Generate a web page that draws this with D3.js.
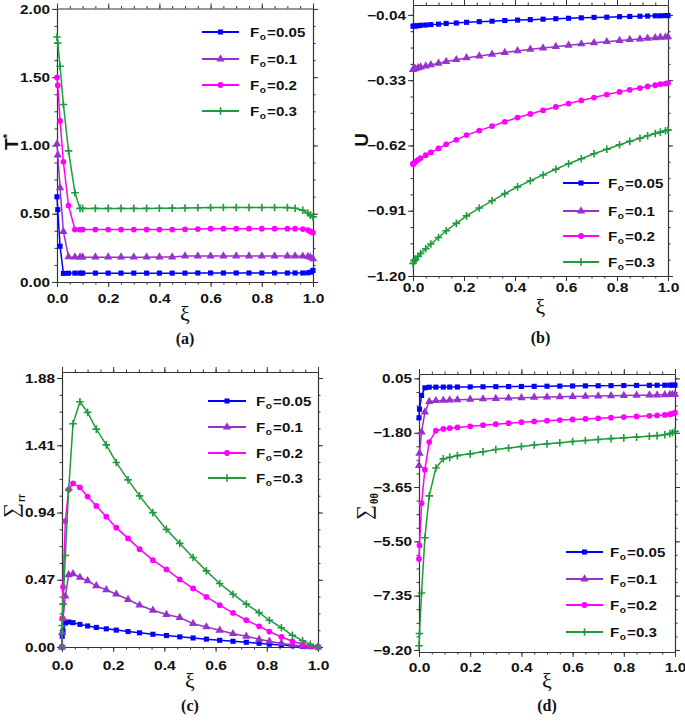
<!DOCTYPE html>
<html><head><meta charset="utf-8">
<script src="https://cdn.jsdelivr.net/npm/d3@7"></script>
<style>body{margin:0;background:#fff} svg{display:block}</style>
</head><body><svg id="c" width="685" height="722"></svg>
<script>
// ---------------- DATA ----------------
const xTicks = [0, 0.2, 0.4, 0.6, 0.8, 1.0];
const foLabels = ["0.05", "0.1", "0.2", "0.3"];

// (a) T* vs xi
const xiA = [0, 0.003, 0.012, 0.025, 0.045, 0.07, 0.09, 0.1, 0.15, 0.2, 0.25, 0.3, 0.35, 0.4, 0.45, 0.5, 0.55, 0.6, 0.65, 0.7, 0.75, 0.8, 0.85, 0.9, 0.93, 0.96, 0.98, 0.99, 1.0];
const tA_005 = [0.624, 0.53, 0.262, 0.063, 0.064, 0.065, 0.065, 0.065, 0.065, 0.065, 0.065, 0.065, 0.065, 0.065, 0.065, 0.065, 0.066, 0.066, 0.066, 0.066, 0.066, 0.066, 0.066, 0.066, 0.066, 0.066, 0.067, 0.072, 0.085];
const tA_01 = [1.011, 0.93, 0.69, 0.37, 0.184, 0.182, 0.182, 0.182, 0.182, 0.182, 0.182, 0.182, 0.182, 0.183, 0.183, 0.19, 0.19, 0.19, 0.19, 0.19, 0.19, 0.19, 0.19, 0.19, 0.19, 0.189, 0.187, 0.18, 0.17];
const tA_02 = [1.498, 1.44, 1.18, 0.88, 0.56, 0.384, 0.384, 0.384, 0.384, 0.384, 0.384, 0.384, 0.384, 0.384, 0.384, 0.386, 0.388, 0.39, 0.39, 0.39, 0.39, 0.39, 0.39, 0.39, 0.39, 0.388, 0.38, 0.37, 0.36];
const tA_03 = [1.794, 1.75, 1.58, 1.30, 0.96, 0.654, 0.539, 0.539, 0.539, 0.539, 0.539, 0.539, 0.539, 0.540, 0.541, 0.542, 0.544, 0.545, 0.546, 0.546, 0.546, 0.546, 0.546, 0.545, 0.54, 0.525, 0.505, 0.49, 0.477];
const yTicksA = [0, 0.5, 1.0, 1.5, 2.0];

// (b) U vs xi
const xiB = [0, 0.005, 0.01, 0.02, 0.03, 0.05, 0.07, 0.1, 0.13, 0.17, 0.21, 0.26, 0.31, 0.36, 0.41, 0.46, 0.51, 0.56, 0.61, 0.66, 0.71, 0.76, 0.81, 0.85, 0.89, 0.92, 0.95, 0.97, 0.99, 1.0];
const uB_005 = [-0.090, -0.089, -0.089, -0.088, -0.086, -0.085, -0.083, -0.081, -0.078, -0.076, -0.073, -0.070, -0.068, -0.065, -0.063, -0.061, -0.059, -0.057, -0.055, -0.053, -0.051, -0.050, -0.048, -0.047, -0.046, -0.045, -0.044, -0.044, -0.043, -0.043];
const uB_01 = [-0.283, -0.280, -0.279, -0.275, -0.272, -0.267, -0.262, -0.255, -0.247, -0.239, -0.231, -0.223, -0.215, -0.207, -0.200, -0.193, -0.187, -0.181, -0.175, -0.169, -0.164, -0.159, -0.154, -0.150, -0.147, -0.144, -0.142, -0.140, -0.139, -0.138];
const uB_02 = [-0.703, -0.697, -0.692, -0.684, -0.676, -0.663, -0.651, -0.633, -0.615, -0.595, -0.574, -0.554, -0.534, -0.515, -0.496, -0.480, -0.464, -0.449, -0.434, -0.420, -0.407, -0.394, -0.382, -0.373, -0.365, -0.358, -0.352, -0.348, -0.345, -0.343];
const uB_03 = [-1.144, -1.133, -1.126, -1.113, -1.100, -1.079, -1.058, -1.029, -0.999, -0.966, -0.933, -0.898, -0.866, -0.834, -0.804, -0.777, -0.751, -0.726, -0.701, -0.679, -0.657, -0.637, -0.617, -0.602, -0.588, -0.577, -0.567, -0.561, -0.555, -0.552];
const yTicksB = [-1.20, -0.91, -0.62, -0.33, -0.04];

// (c) Sigma_rr vs xi
const xiC = [0, 0.001, 0.004, 0.013, 0.026, 0.043, 0.07, 0.1, 0.134, 0.173, 0.212, 0.258, 0.303, 0.355, 0.408, 0.46, 0.512, 0.564, 0.616, 0.668, 0.72, 0.77, 0.81, 0.857, 0.9, 0.94, 0.97, 1.0];
const sC_005 = [0, 0.075, 0.112, 0.168, 0.175, 0.17, 0.158, 0.147, 0.137, 0.127, 0.118, 0.108, 0.099, 0.089, 0.08, 0.071, 0.063, 0.055, 0.047, 0.04, 0.033, 0.026, 0.02, 0.014, 0.009, 0.005, 0.002, 0];
const sC_01 = [0, 0.1, 0.2, 0.355, 0.505, 0.512, 0.486, 0.462, 0.427, 0.40, 0.369, 0.332, 0.292, 0.257, 0.227, 0.206, 0.163, 0.14, 0.117, 0.093, 0.075, 0.054, 0.04, 0.025, 0.015, 0.006, 0.002, 0];
const sC_02 = [0, 0.2, 0.42, 0.88, 1.10, 1.144, 1.115, 1.051, 0.986, 0.911, 0.834, 0.759, 0.684, 0.607, 0.542, 0.472, 0.409, 0.35, 0.292, 0.238, 0.187, 0.145, 0.108, 0.07, 0.04, 0.019, 0.006, 0];
const sC_03 = [0, 0.15, 0.30, 0.64, 1.10, 1.56, 1.714, 1.64, 1.523, 1.413, 1.29, 1.168, 1.056, 0.939, 0.822, 0.724, 0.626, 0.532, 0.444, 0.369, 0.30, 0.24, 0.187, 0.135, 0.082, 0.044, 0.018, 0];
const yTicksC = [0, 0.47, 0.94, 1.41, 1.88];

// (d) Sigma_thetatheta vs xi
const xiD = [0, 0.002, 0.01, 0.023, 0.04, 0.066, 0.095, 0.12, 0.15, 0.2, 0.25, 0.3, 0.35, 0.4, 0.45, 0.5, 0.55, 0.6, 0.65, 0.7, 0.75, 0.8, 0.85, 0.9, 0.93, 0.96, 0.98, 0.99, 1.0];
const sD_005 = [-1.29, -1.0, -0.53, -0.27, -0.25, -0.248, -0.246, -0.245, -0.243, -0.24, -0.236, -0.232, -0.228, -0.224, -0.22, -0.216, -0.212, -0.208, -0.204, -0.2, -0.196, -0.192, -0.189, -0.186, -0.184, -0.182, -0.18, -0.179, -0.178];
const sD_01 = [-2.917, -2.5, -1.78, -1.10, -0.74, -0.71, -0.70, -0.69, -0.68, -0.665, -0.65, -0.636, -0.622, -0.61, -0.598, -0.587, -0.577, -0.568, -0.56, -0.552, -0.545, -0.535, -0.527, -0.52, -0.515, -0.508, -0.503, -0.5, -0.496];
const sD_02 = [-6.1, -5.64, -4.2, -3.06, -2.12, -1.73, -1.67, -1.645, -1.62, -1.58, -1.545, -1.51, -1.475, -1.44, -1.415, -1.39, -1.37, -1.35, -1.33, -1.31, -1.29, -1.265, -1.245, -1.225, -1.21, -1.195, -1.17, -1.15, -1.12];
const sD_03 = [-9.056, -8.64, -7.26, -5.38, -3.95, -3.0, -2.69, -2.64, -2.58, -2.52, -2.45, -2.37, -2.32, -2.27, -2.22, -2.18, -2.14, -2.1, -2.065, -2.03, -2.0, -1.975, -1.95, -1.92, -1.9, -1.87, -1.83, -1.8, -1.75];
const yTicksD = [-9.20, -7.35, -5.50, -3.65, -1.80, 0.05];

// ---------------- STYLE / LAYOUT ----------------
const colors = ["#0000ff", "#9932cc", "#ff00ff", "#1f9a3c"];
const shapes = ["square", "triangle", "circle", "plus"];
const sans = "Liberation Sans, Arial, sans-serif";
const serif = "Liberation Serif, Times New Roman, serif";
const axisColor = "#333";

const panels = [
  { xs: xiA, series: [tA_005, tA_01, tA_02, tA_03], yTicks: yTicksA, yDom: [0, 2.003],
    x0: 57, x1: 313, yTop: 8.5, yBot: 282, xLab: 298, xiY: 317, tag: "(a)", tagY: 338,
    leg: { l0: 202, l1: 239, tx: 250, rows: [32, 59, 85, 111] }, title: "T" },
  { xs: xiB, series: [uB_005, uB_01, uB_02, uB_03], yTicks: yTicksB, yDom: [-1.2, 0.004],
    x0: 413, x1: 668, yTop: 5, yBot: 276, xLab: 287, xiY: 310, tag: "(b)", tagY: 337,
    leg: { l0: 563, l1: 599, tx: 608, rows: [183, 211, 236, 262] }, title: "U" },
  { xs: xiC, series: [sC_005, sC_01, sC_02, sC_03], yTicks: yTicksC, yDom: [0, 1.922],
    x0: 62, x1: 318, yTop: 372, yBot: 647, xLab: 665, xiY: 684, tag: "(c)", tagY: 705,
    leg: { l0: 208, l1: 246, tx: 256, rows: [401, 427, 453, 478] }, title: "rr" },
  { xs: xiD, series: [sD_005, sD_01, sD_02, sD_03], yTicks: yTicksD, yDom: [-9.27, 0.2],
    x0: 419, x1: 675, yTop: 374, yBot: 652, xLab: 667, xiY: 684, tag: "(d)", tagY: 705,
    leg: { l0: 566, l1: 603, tx: 610, rows: [552, 579, 605, 632] }, title: "θθ" }
];

const svg = d3.select("#c");

function drawMarker(g, shape, cx, cy, color) {
  if (shape === "plus") {
    g.append("path").attr("d", "M-3.8,0H3.8M0,-3.8V3.8")
      .attr("transform", `translate(${cx},${cy})`)
      .attr("stroke", color).attr("stroke-width", 1.6).attr("fill", "none");
  } else {
    const t = shape === "square" ? d3.symbolSquare : shape === "triangle" ? d3.symbolTriangle : d3.symbolCircle;
    const size = shape === "square" ? 26 : shape === "triangle" ? 30 : 26;
    g.append("path").attr("d", d3.symbol().type(t).size(size)())
      .attr("transform", `translate(${cx},${cy})`)
      .attr("fill", color).attr("stroke", "none");
  }
}

function styleAxis(sel) {
  sel.selectAll("line").attr("stroke", axisColor);
  sel.selectAll("path.domain").attr("stroke", axisColor).attr("stroke-width", 1.2);
}

panels.forEach((p, pi) => {
  const g = svg.append("g");
  const x = d3.scaleLinear().domain([0, 1]).range([p.x0, p.x1]);
  const y = d3.scaleLinear().domain(p.yDom).range([p.yBot, p.yTop]);
  const minorX = d3.range(0, 1.0001, 0.05);
  const step = (p.yTicks[1] - p.yTicks[0]) / 4;
  const minorY = [];
  for (let v = p.yTicks[0]; v <= p.yDom[1] + 1e-9; v += step) minorY.push(v);

  // minor ticks
  [[d3.axisBottom(x), `translate(0,${p.yBot})`, minorX],
   [d3.axisTop(x), `translate(0,${p.yTop})`, minorX],
   [d3.axisLeft(y), `translate(${p.x0},0)`, minorY],
   [d3.axisRight(y), `translate(${p.x1},0)`, minorY]].forEach(([ax, tr, vals]) => {
    const a = g.append("g").attr("transform", tr)
      .call(ax.tickValues(vals).tickSize(2.5).tickSizeOuter(0).tickFormat(""));
    a.select(".domain").remove();
    styleAxis(a);
  });

  // major axes
  const xb = g.append("g").attr("transform", `translate(0,${p.yBot})`)
    .call(d3.axisBottom(x).tickValues(xTicks).tickSize(5).tickSizeOuter(0)
      .tickPadding(0).tickFormat(d3.format(".1f")));
  xb.selectAll("text").attr("y", p.xLab - p.yBot).attr("dy", "0.36em");
  const xt = g.append("g").attr("transform", `translate(0,${p.yTop})`)
    .call(d3.axisTop(x).tickValues(xTicks).tickSize(5).tickSizeOuter(0).tickFormat(""));
  const yl = g.append("g").attr("transform", `translate(${p.x0},0)`)
    .call(d3.axisLeft(y).tickValues(p.yTicks).tickSize(5).tickSizeOuter(0)
      .tickPadding(1).tickFormat(d3.format(".2f")));
  const yr = g.append("g").attr("transform", `translate(${p.x1},0)`)
    .call(d3.axisRight(y).tickValues(p.yTicks).tickSize(5).tickSizeOuter(0).tickFormat(""));
  [xb, xt, yl, yr].forEach(a => {
    styleAxis(a);
    a.selectAll("text").attr("font-family", sans).attr("font-weight", "bold")
      .attr("font-size", 13).attr("fill", "#111");
  });
  xb.selectAll("text").attr("transform", "scale(1.2,1)");
  yl.selectAll("text").attr("transform", "scale(1.18,1)");

  // series
  const line = d3.line().x((d, i) => x(p.xs[i])).y(d => y(d));
  p.series.forEach((vals, si) => {
    g.append("path").datum(vals).attr("d", line)
      .attr("fill", "none").attr("stroke", colors[si]).attr("stroke-width", 1.5);
    const mg = g.append("g");
    vals.forEach((v, i) => drawMarker(mg, shapes[si], x(p.xs[i]), y(v), colors[si]));
  });

  // legend
  p.leg.rows.forEach((ry, si) => {
    g.append("line").attr("x1", p.leg.l0).attr("x2", p.leg.l1).attr("y1", ry).attr("y2", ry)
      .attr("stroke", colors[si]).attr("stroke-width", 1.8);
    drawMarker(g, shapes[si], (p.leg.l0 + p.leg.l1) / 2, ry, colors[si]);
    const t = g.append("text").attr("transform", `translate(${p.leg.tx},${ry + 4.8}) scale(1.12,1)`)
      .attr("font-family", sans).attr("font-weight", "bold").attr("font-size", 13.5).attr("fill", "#111");
    t.append("tspan").text("F");
    t.append("tspan").text("o").attr("font-size", 9).attr("dy", 3.5).attr("dx", 0.5);
    t.append("tspan").text("=" + foLabels[si]).attr("dy", -3.5).attr("dx", 1);
  });

  // x title and tag
  g.append("text").attr("x", (p.x0 + p.x1) / 2).attr("y", p.xiY + 4)
    .attr("text-anchor", "middle").attr("font-family", serif).attr("font-size", 22)
    .attr("fill", "#111").text("ξ");
  g.append("text").attr("x", (p.x0 + p.x1) / 2).attr("y", p.tagY + 5.5)
    .attr("text-anchor", "middle").attr("font-family", serif).attr("font-weight", "bold")
    .attr("font-size", 16).attr("fill", "#111").text(p.tag);
});

// y titles
// (a) T*
{
  const t = svg.append("text").attr("transform", "translate(18,142) rotate(-90)")
    .attr("text-anchor", "middle").attr("font-family", sans).attr("font-weight", "bold")
    .attr("font-size", 19).attr("fill", "#111");
  t.append("tspan").text("T");
  t.append("tspan").text("*").attr("font-size", 11).attr("dy", -7);
}
// (b) U
svg.append("text").attr("transform", "translate(368,140) rotate(-90)")
  .attr("text-anchor", "middle").attr("font-family", sans).attr("font-weight", "bold")
  .attr("font-size", 19).attr("fill", "#111").text("U");
// (c) Sigma_rr and (d) Sigma_thetatheta
[[18, 518, panels[2].title], [371, 520, panels[3].title]].forEach(([cx, cy, sub]) => {
  const t = svg.append("text").attr("transform", `translate(${cx},${cy}) rotate(-90)`)
    .attr("text-anchor", "start").attr("fill", "#111");
  t.append("tspan").text("∑").attr("font-family", serif).attr("font-size", 21);
  t.append("tspan").text(sub).attr("font-family", sans).attr("font-weight", "bold")
    .attr("font-size", 10).attr("dy", 7).attr("dx", 1);
});
</script>
</body></html>
